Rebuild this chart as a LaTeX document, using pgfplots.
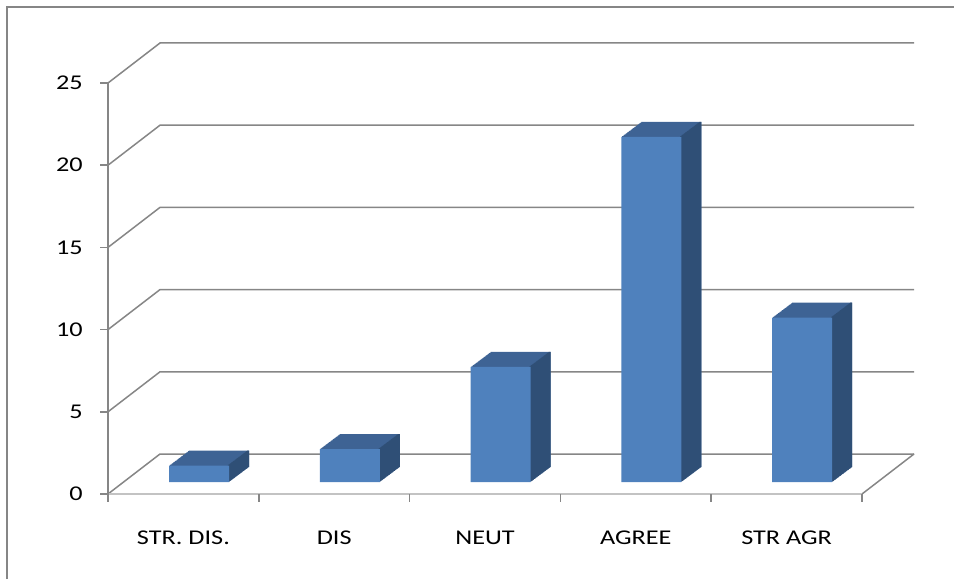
\documentclass[border=0pt]{standalone}
\usepackage{pgfplots}
\pgfplotsset{compat=1.18}
\usepackage{pgfplotstable}
\usepackage{fontspec}
\setmainfont{Carlito}[FakeStretch=1.25]

\definecolor{barfront}{RGB}{79,129,189}
\definecolor{bartop}{RGB}{62,99,148}
\definecolor{barside}{RGB}{47,79,118}
\definecolor{gridc}{RGB}{134,134,134}

\pgfplotstableread{
x y
0 1
1 2
2 7
3 21
4 10
}\bardata

\begin{document}
\begin{tikzpicture}[x=1pt,y=1pt]
\useasboundingbox (0,0) rectangle (954,579);
% chart frame (left and top edges only visible)
\draw[gridc, line width=2pt] (7,0) -- (7,572) -- (954,572);

\begin{axis}[
    at={(123.6pt,97pt)}, anchor=south west,
    scale only axis, width=754pt, height=411pt,
    xmin=-0.5, xmax=4.5, ymin=0, ymax=25,
    clip=false,
    axis line style={draw=none},
    tick style={draw=none},
    xtick={0,...,4},
    xticklabels={STR. DIS., DIS, NEUT, AGREE, STR AGR},
    ytick={0,5,...,25},
    /pgf/number format/assume math mode=true,
    tick label style={font=\fontsize{21}{24}\selectfont, inner sep=0pt},
    xticklabel style={anchor=base, xshift=-15.6pt, yshift=-62pt},
    yticklabel style={anchor=east, xshift=-40.6pt, yshift=-12pt},
]
% back wall grid + left diagonals + y tick marks
\pgfplotsinvokeforeach{0,5,10,15,20,25}{
  \draw[gridc, line width=1.5pt]
    ([xshift=-15.6pt,yshift=-12pt]axis cs:-0.5,#1)
    -- ([xshift=36.4pt,yshift=28pt]axis cs:-0.5,#1)
    -- ([xshift=36.4pt,yshift=28pt]axis cs:4.5,#1);
  \draw[gridc, line width=1.5pt]
    ([xshift=-15.6pt,yshift=-12pt]axis cs:-0.5,#1)
    -- ([xshift=-23.6pt,yshift=-12pt]axis cs:-0.5,#1);
}
% floor
\draw[gridc, line width=1.5pt]
  ([xshift=-15.6pt,yshift=-12pt]axis cs:4.5,0)
  -- ([xshift=36.4pt,yshift=28pt]axis cs:4.5,0);
\draw[gridc!50, line width=1.5pt]
  ([xshift=-15.6pt,yshift=-12pt]axis cs:-0.5,0)
  -- ([xshift=-15.6pt,yshift=-12pt]axis cs:4.5,0);
% front y axis
\draw[gridc, line width=1.5pt]
  ([xshift=-15.6pt,yshift=-12pt]axis cs:-0.5,0)
  -- ([xshift=-15.6pt,yshift=-12pt]axis cs:-0.5,25);
% x tick marks
\pgfplotsinvokeforeach{-0.5,0.5,1.5,2.5,3.5,4.5}{
  \draw[gridc, line width=1.5pt]
    ([xshift=-15.6pt,yshift=-12pt]axis cs:#1,0)
    -- ([xshift=-15.6pt,yshift=-20pt]axis cs:#1,0);
}

% 3D bars: top extrusion, side extrusion, front face
\pgfplotsinvokeforeach{1,...,24}{
  \addplot[ybar, bar width=60pt, bar shift=0pt, fill=bartop, draw=none,
    xshift=#1*0.8333pt, yshift=#1*0.625pt] table {\bardata};
}
\pgfplotsinvokeforeach{1,...,24}{
  \addplot[ybar, bar width=2pt, bar shift=29pt, fill=barside, draw=none,
    xshift=#1*0.8333pt, yshift=#1*0.625pt] table {\bardata};
}
\addplot[ybar, bar width=60pt, bar shift=0pt, fill=barfront, draw=none]
  table {\bardata};
\end{axis}
\end{tikzpicture}
\end{document}
